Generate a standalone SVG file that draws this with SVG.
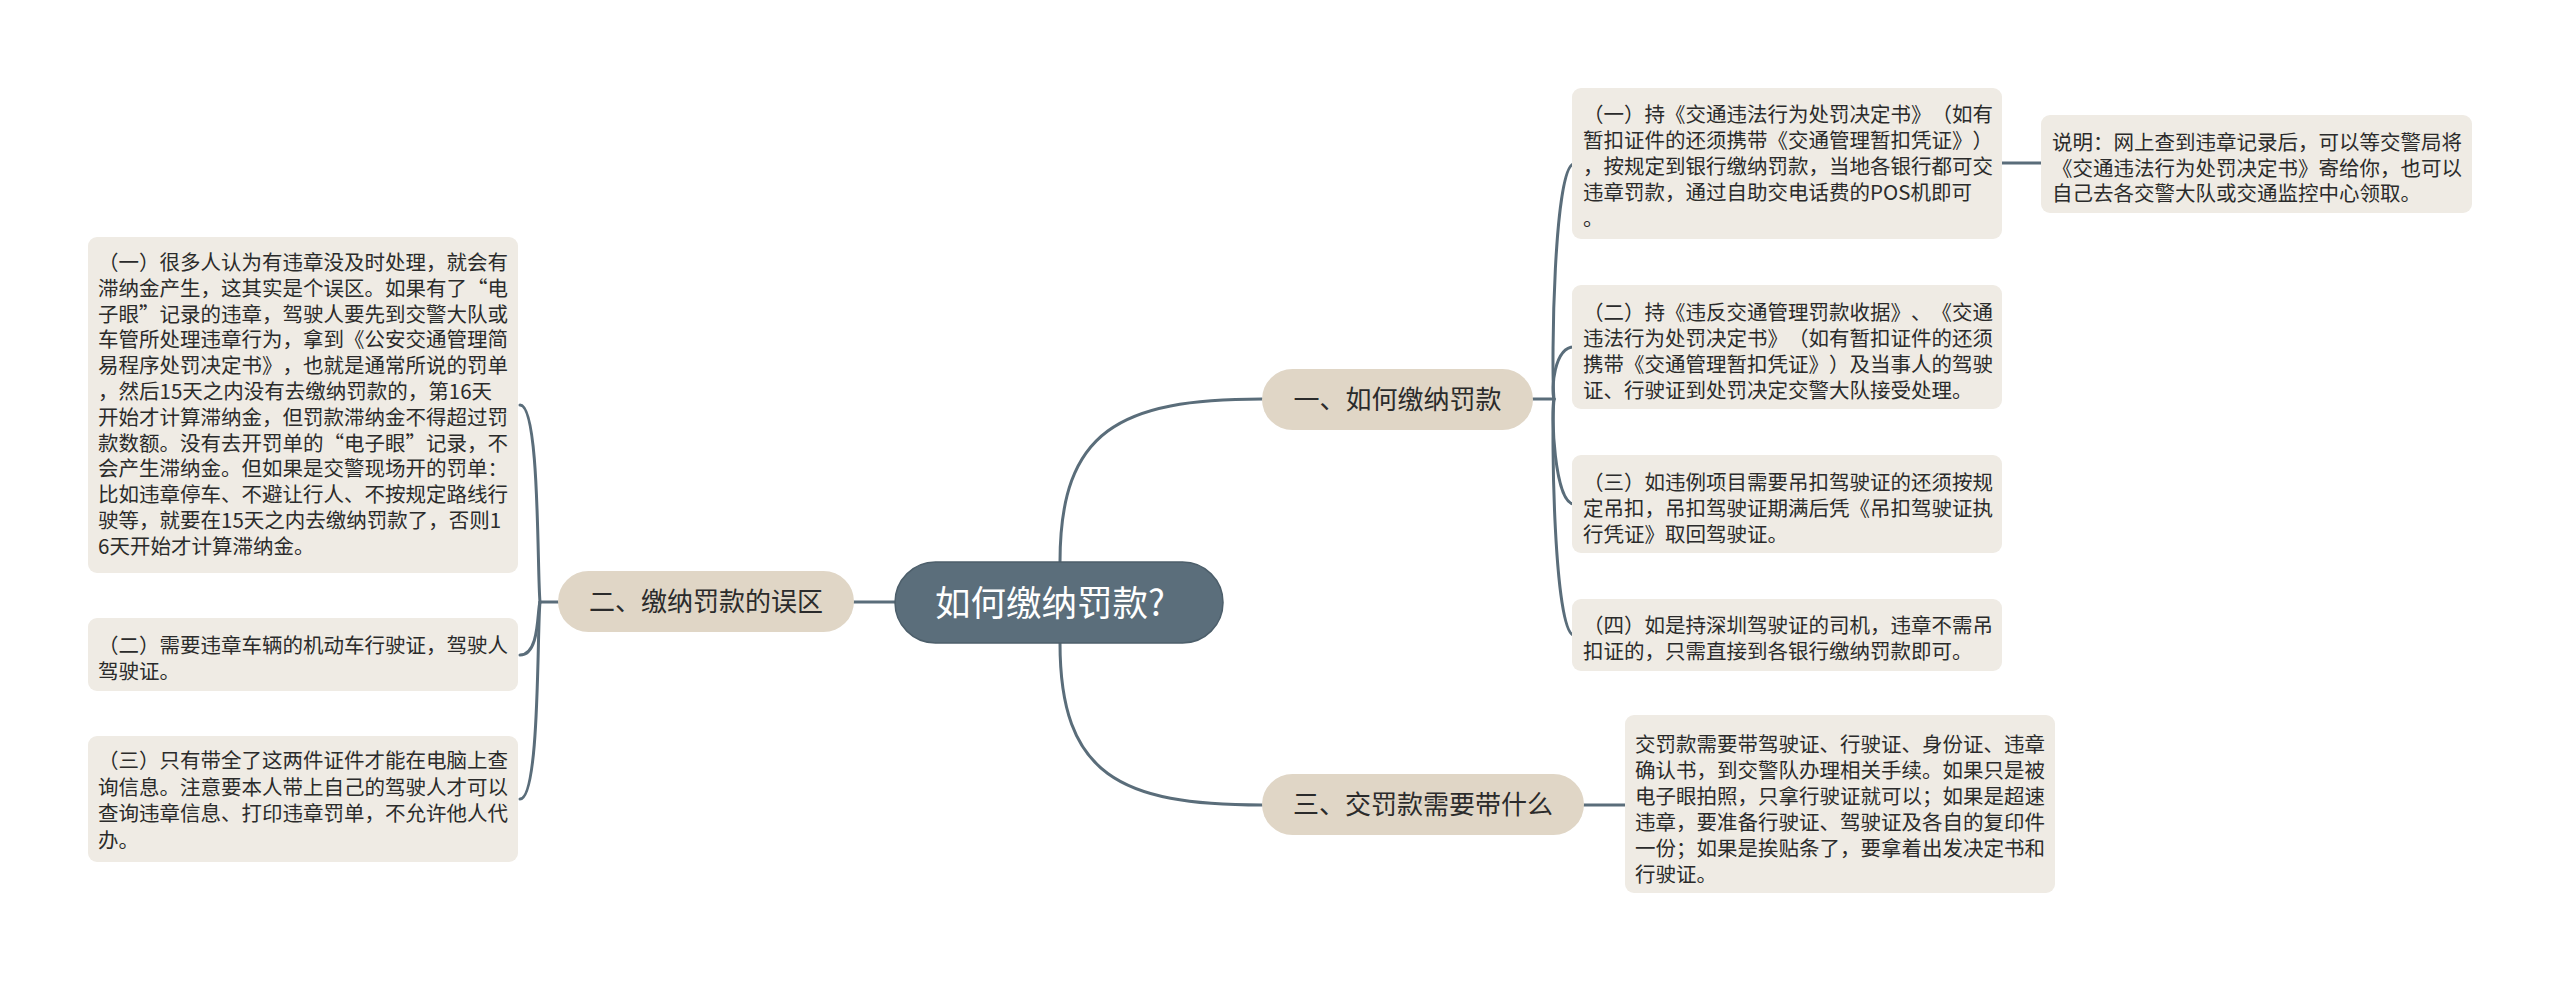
<svg xmlns="http://www.w3.org/2000/svg" width="2560" height="983" viewBox="0 0 2560 983">
<style>
.bg{fill:#ffffff}
.ln{fill:none;stroke:#5a6d7a;stroke-width:3;stroke-linecap:round}
.root{fill:#5b6e7b;stroke:#4d5f6b;stroke-width:1.5}
.br{fill:#e0d6c6}
.lf{fill:#efebe4}
text{text-spacing-trim:space-all}
.t{font-family:"Noto Sans CJK SC","Noto Sans",sans-serif;fill:#2b2b2b;font-size:20.5px}
.bt{font-family:"Noto Sans CJK SC","Noto Sans",sans-serif;fill:#2b2b2b;font-size:26px;text-anchor:middle}
.rt{font-family:"Noto Sans CJK SC","Noto Sans",sans-serif;fill:#ffffff;font-size:35.5px;text-anchor:middle}
</style>
<rect class="bg" x="0" y="0" width="2560" height="983"/>
<g id="connectors">
<path class="ln" d="M895,602 L854,602"/>
<path class="ln" d="M1060,562 C1060,430 1120,399 1262,399"/>
<path class="ln" d="M1060,643 C1060,775 1120,805 1262,805"/>
<path class="ln" d="M558,602 L540,602"/>
<path class="ln" d="M540,602 C537,570 540,405 520,405"/>
<path class="ln" d="M540,602 C537,610 540,655 520,655"/>
<path class="ln" d="M540,602 C537,630 540,799 520,799"/>
<path class="ln" d="M1533,399 L1554,399"/>
<path class="ln" d="M1554,399 C1551,365 1554,164 1574,164"/>
<path class="ln" d="M1554,399 C1551,390 1554,347 1574,347"/>
<path class="ln" d="M1554,399 C1551,410 1554,504 1574,504"/>
<path class="ln" d="M1554,399 C1551,430 1554,635 1574,635"/>
<path class="ln" d="M2002,163 L2041,163"/>
<path class="ln" d="M1584,805 L1625,805"/>
</g>
<g id="root">
<rect class="root" x="895" y="562" width="328" height="81" rx="40.5"/>
<text class="rt" x="1050" y="616">如何缴纳罚款?</text>
</g>
<g id="branch-1">
<rect class="br" x="1262" y="369" width="271" height="61" rx="30.5"/>
<text class="bt" x="1397.5" y="409">一、如何缴纳罚款</text>
</g>
<g id="branch-2">
<rect class="br" x="558" y="571" width="296" height="61" rx="30.5"/>
<text class="bt" x="706" y="611">二、缴纳罚款的误区</text>
</g>
<g id="branch-3">
<rect class="br" x="1262" y="774" width="322" height="61" rx="30.5"/>
<text class="bt" x="1423" y="814">三、交罚款需要带什么</text>
</g>
<g id="left-1">
<rect class="lf" x="88" y="237" width="430" height="336" rx="9"/>
<text class="t" x="98">
<tspan x="98" y="270">（一）很多人认为有违章没及时处理，就会有</tspan>
<tspan x="98" y="295.8">滞纳金产生，这其实是个误区。如果有了“电</tspan>
<tspan x="98" y="321.6">子眼”记录的违章，驾驶人要先到交警大队或</tspan>
<tspan x="98" y="347.4">车管所处理违章行为，拿到《公安交通管理简</tspan>
<tspan x="98" y="373.2">易程序处罚决定书》，也就是通常所说的罚单</tspan>
<tspan x="98" y="399">，然后15天之内没有去缴纳罚款的，第16天</tspan>
<tspan x="98" y="424.8">开始才计算滞纳金，但罚款滞纳金不得超过罚</tspan>
<tspan x="98" y="450.6">款数额。没有去开罚单的“电子眼”记录，不</tspan>
<tspan x="98" y="476.4">会产生滞纳金。但如果是交警现场开的罚单：</tspan>
<tspan x="98" y="502.2">比如违章停车、不避让行人、不按规定路线行</tspan>
<tspan x="98" y="528">驶等，就要在15天之内去缴纳罚款了，否则1</tspan>
<tspan x="98" y="553.8">6天开始才计算滞纳金。</tspan>
</text>
</g>
<g id="left-2">
<rect class="lf" x="88" y="618" width="430" height="73" rx="9"/>
<text class="t">
<tspan x="98" y="653">（二）需要违章车辆的机动车行驶证，驾驶人</tspan>
<tspan x="98" y="678.8">驾驶证。</tspan>
</text>
</g>
<g id="left-3">
<rect class="lf" x="88" y="736" width="430" height="126" rx="9"/>
<text class="t">
<tspan x="98" y="768">（三）只有带全了这两件证件才能在电脑上查</tspan>
<tspan x="98" y="794.5">询信息。注意要本人带上自己的驾驶人才可以</tspan>
<tspan x="98" y="821">查询违章信息、打印违章罚单，不允许他人代</tspan>
<tspan x="98" y="847.5">办。</tspan>
</text>
</g>
<g id="right-1">
<rect class="lf" x="1572" y="88" width="430" height="151" rx="9"/>
<text class="t">
<tspan x="1583" y="121.5">（一）持《交通违法行为处罚决定书》（如有</tspan>
<tspan x="1583" y="147.5">暂扣证件的还须携带《交通管理暂扣凭证》）</tspan>
<tspan x="1583" y="173.5">，按规定到银行缴纳罚款，当地各银行都可交</tspan>
<tspan x="1583" y="199.5">违章罚款，通过自助交电话费的POS机即可</tspan>
<tspan x="1583" y="225.5">。</tspan>
</text>
</g>
<g id="note-1">
<rect class="lf" x="2041" y="115" width="431" height="98" rx="9"/>
<text class="t">
<tspan x="2052" y="150">说明：网上查到违章记录后，可以等交警局将</tspan>
<tspan x="2052" y="175.5">《交通违法行为处罚决定书》寄给你，也可以</tspan>
<tspan x="2052" y="201">自己去各交警大队或交通监控中心领取。</tspan>
</text>
</g>
<g id="right-2">
<rect class="lf" x="1572" y="285" width="430" height="124" rx="9"/>
<text class="t">
<tspan x="1583" y="320">（二）持《违反交通管理罚款收据》、《交通</tspan>
<tspan x="1583" y="346">违法行为处罚决定书》（如有暂扣证件的还须</tspan>
<tspan x="1583" y="372">携带《交通管理暂扣凭证》）及当事人的驾驶</tspan>
<tspan x="1583" y="398">证、行驶证到处罚决定交警大队接受处理。</tspan>
</text>
</g>
<g id="right-3">
<rect class="lf" x="1572" y="455" width="430" height="98" rx="9"/>
<text class="t">
<tspan x="1583" y="490">（三）如违例项目需要吊扣驾驶证的还须按规</tspan>
<tspan x="1583" y="516">定吊扣，吊扣驾驶证期满后凭《吊扣驾驶证执</tspan>
<tspan x="1583" y="542">行凭证》取回驾驶证。</tspan>
</text>
</g>
<g id="right-4">
<rect class="lf" x="1572" y="599" width="430" height="72" rx="9"/>
<text class="t">
<tspan x="1583" y="633">（四）如是持深圳驾驶证的司机，违章不需吊</tspan>
<tspan x="1583" y="659">扣证的，只需直接到各银行缴纳罚款即可。</tspan>
</text>
</g>
<g id="right-5">
<rect class="lf" x="1625" y="715" width="430" height="178" rx="9"/>
<text class="t">
<tspan x="1635" y="751.5">交罚款需要带驾驶证、行驶证、身份证、违章</tspan>
<tspan x="1635" y="777.5">确认书，到交警队办理相关手续。如果只是被</tspan>
<tspan x="1635" y="803.5">电子眼拍照，只拿行驶证就可以；如果是超速</tspan>
<tspan x="1635" y="829.5">违章，要准备行驶证、驾驶证及各自的复印件</tspan>
<tspan x="1635" y="855.5">一份；如果是挨贴条了，要拿着出发决定书和</tspan>
<tspan x="1635" y="881.5">行驶证。</tspan>
</text>
</g>
</svg>
